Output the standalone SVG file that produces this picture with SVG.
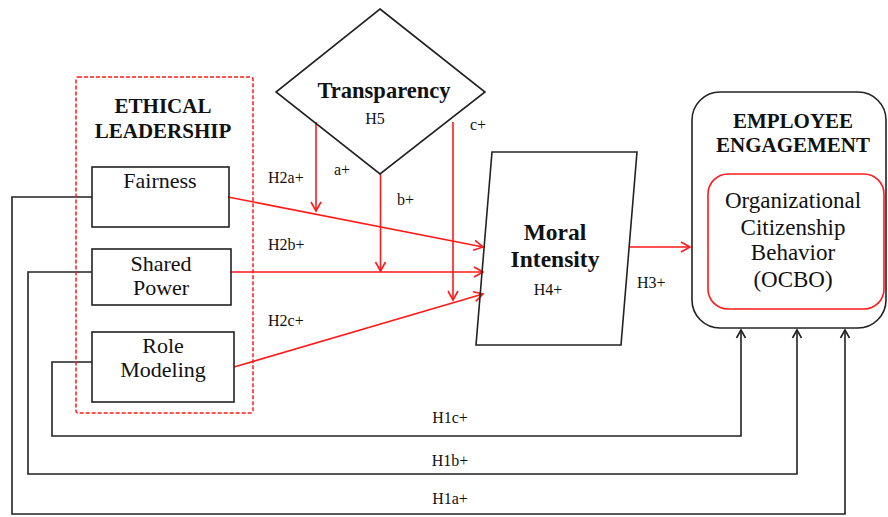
<svg xmlns="http://www.w3.org/2000/svg" width="888" height="517" viewBox="0 0 888 517">
<style>
text{font-family:"Liberation Serif","Times New Roman",serif;fill:#111}
.b{font-weight:bold}
.m{text-anchor:middle}
.s{font-size:16px}
.r{font-size:22px}
.k{fill:none;stroke:#222;stroke-width:1.6}
.red{fill:none;stroke:#ff1a1a;stroke-width:1.6}
</style>
<defs>
<marker id="ar" markerUnits="userSpaceOnUse" markerWidth="14" markerHeight="14" refX="10" refY="6" orient="auto">
<path d="M1,1 L10,6 L1,11" fill="none" stroke="#ff1a1a" stroke-width="1.6"/>
</marker>
<marker id="ak" markerUnits="userSpaceOnUse" markerWidth="14" markerHeight="14" refX="10" refY="6" orient="auto">
<path d="M2,1.5 L10,6 L2,10.5" fill="none" stroke="#222" stroke-width="1.6"/>
</marker>
</defs>
<rect width="888" height="517" fill="#fff"/>
<g id="connectors">
<path class="k" d="M92,197 H12 V514 H845 V330" marker-end="url(#ak)"/>
<path class="k" d="M92,272 H28 V474 H797 V330" marker-end="url(#ak)"/>
<path class="k" d="M92,362 H52 V436 H741 V330" marker-end="url(#ak)"/>
<path class="red" d="M228,197 L483,247" marker-end="url(#ar)"/>
<path class="red" d="M231,272 L483,272" marker-end="url(#ar)"/>
<path class="red" d="M234,367 L483,294" marker-end="url(#ar)"/>
<path class="red" d="M316,122 V211" marker-end="url(#ar)"/>
<path class="red" d="M380.5,174 V271" marker-end="url(#ar)"/>
<path class="red" d="M453,122 V300" marker-end="url(#ar)"/>
<path class="red" d="M629,247 L690,247" marker-end="url(#ar)"/>
<text class="s" x="268" y="183">H2a+</text>
<text class="s" x="334" y="175">a+</text>
<text class="s" x="397" y="205">b+</text>
<text class="s" x="470" y="130">c+</text>
<text class="s" x="268" y="250">H2b+</text>
<text class="s" x="268" y="326">H2c+</text>
<text class="s" x="637" y="288">H3+</text>
<text class="s m" x="450" y="423">H1c+</text>
<text class="s m" x="450" y="466">H1b+</text>
<text class="s m" x="450" y="504">H1a+</text>
</g>
<g id="ethical-leadership">
<rect x="76" y="77" width="177" height="336" rx="2" fill="none" stroke="#ff1a1a" stroke-width="1.5" stroke-dasharray="4 2"/>
<text class="b m" x="163" y="113" font-size="21">ETHICAL</text>
<text class="b m" x="163" y="138" font-size="21">LEADERSHIP</text>
</g>
<g id="fairness">
<rect class="k" x="92" y="167" width="137" height="60"/>
<text class="r m" x="160" y="188">Fairness</text>
</g>
<g id="shared-power">
<rect class="k" x="92" y="249" width="139" height="56"/>
<text class="r m" x="161" y="271">Shared</text>
<text class="r m" x="161" y="295">Power</text>
</g>
<g id="role-modeling">
<rect class="k" x="92" y="332" width="142" height="70"/>
<text class="r m" x="163" y="353">Role</text>
<text class="r m" x="163" y="377">Modeling</text>
</g>
<g id="transparency">
<polygon class="k" points="380,9 485,92 380,174 276,92" fill="#fff"/>
<text class="b m" x="384" y="98" font-size="22.5">Transparency</text>
<text class="s m" x="375" y="124">H5</text>
</g>
<g id="moral-intensity">
<polygon class="k" points="492,152 637,152 621,345 476,345"/>
<text class="b m" x="555" y="240" font-size="23.5">Moral</text>
<text class="b m" x="555" y="267" font-size="23.5">Intensity</text>
<text class="s m" x="548" y="295">H4+</text>
</g>
<g id="employee-engagement">
<rect class="k" x="692" y="92" width="194" height="236" rx="28"/>
<text class="b m" x="793" y="128" font-size="21">EMPLOYEE</text>
<text class="b m" x="793" y="152" font-size="21">ENGAGEMENT</text>
</g>
<g id="ocbo">
<rect x="708" y="174" width="176" height="135" rx="20" fill="none" stroke="#ff1a1a" stroke-width="1.6"/>
<text class="m" x="793" y="208" font-size="23">Organizational</text>
<text class="m" x="793" y="235" font-size="23">Citizenship</text>
<text class="m" x="793" y="260" font-size="23">Behavior</text>
<text class="m" x="793" y="287" font-size="23">(OCBO)</text>
</g>
</svg>
